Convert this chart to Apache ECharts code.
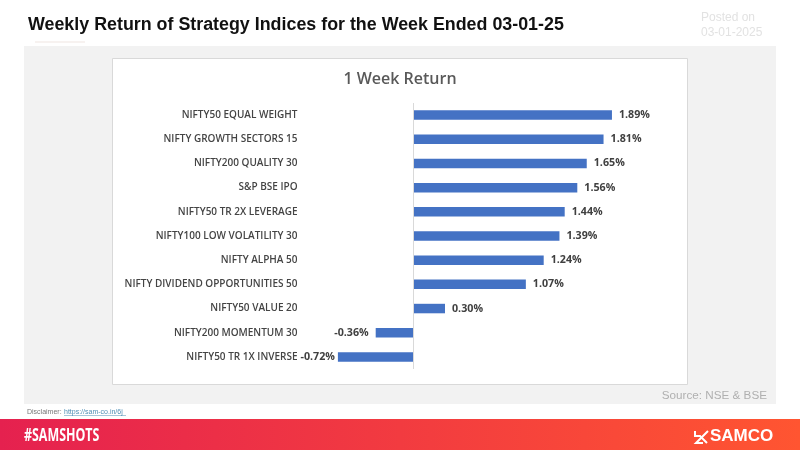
<!DOCTYPE html>
<html><head><meta charset="utf-8">
<style>html,body{margin:0;padding:0;background:#fff}#c{width:800px;height:450px}</style>
<script src="https://cdn.jsdelivr.net/npm/echarts@6/dist/echarts.min.js"></script>
</head><body><div id="c"></div>
<script>
const categories = ["NIFTY50 EQUAL WEIGHT","NIFTY GROWTH SECTORS 15","NIFTY200 QUALITY 30","S&P BSE IPO","NIFTY50 TR 2X LEVERAGE","NIFTY100 LOW VOLATILITY 30","NIFTY ALPHA 50","NIFTY DIVIDEND OPPORTUNITIES 50","NIFTY50 VALUE 20","NIFTY200 MOMENTUM 30","NIFTY50 TR 1X INVERSE"];
const values = [1.89,1.81,1.65,1.56,1.44,1.39,1.24,1.07,0.30,-0.36,-0.72];
const pageTitle = "Weekly Return of Strategy Indices for the Week Ended 03-01-25";
const chartTitle = "1 Week Return";
const chart = echarts.init(document.getElementById('c'), null, {renderer:'canvas'});
const t = (x,y,text,font,fill,extra={}) => Object.assign({type:'text',x,y,z:5,style:{text,font,fill,textVerticalAlign:'middle'}},extra);
chart.setOption({
  animation:false,
  backgroundColor:'#ffffff',
  grid:{left:308.5,width:315,top:103,height:266,containLabel:false},
  xAxis:{type:'value',min:-1,max:2,interval:1,show:false,splitLine:{show:false}},
  yAxis:{type:'category',inverse:true,data:categories,
    axisLine:{show:false,onZero:false},axisTick:{show:false},
    axisLabel:{margin:11,fontFamily:'Open Sans',fontWeight:600,fontSize:10,color:'#444444'}},
  series:[{type:'bar',barWidth:9.5,z:3,
    data:values.map((v,i)=> i===values.length-1 ? {value:v,label:{distance:3}} : v),
    itemStyle:{color:'#4472c4'},
    label:{show:true,position:'outside',distance:7,fontFamily:'Open Sans',fontWeight:700,fontSize:10.7,color:'#404040',
      formatter:p=>p.value.toFixed(2)+'%'},
    markLine:{silent:true,symbol:'none',label:{show:false},animation:false,
      lineStyle:{color:'#d9d9d9',width:1,type:'solid'},data:[{xAxis:0}]}}],
  graphic:[
    {type:'rect',z:-10,shape:{x:24,y:46,width:752,height:358},style:{fill:'#f2f2f2'}},
    {type:'rect',z:-9,shape:{x:112.5,y:58.5,width:575,height:326},style:{fill:'#ffffff',stroke:'#d9d9d9',lineWidth:1}},
    {type:'rect',z:-9,shape:{x:35,y:41.5,width:50,height:1},style:{fill:'#f0e6e2'}},
    {type:'rect',z:-9,shape:{x:0,y:419,width:800,height:31},style:{fill:new echarts.graphic.LinearGradient(0,0,1,0,[{offset:0,color:'#e5214f'},{offset:1,color:'#ff5531'}])}},
    t(28,25,pageTitle,'bold 17.85px "Liberation Sans"','#111111'),
    t(701,18,'Posted on','12px "Liberation Sans"','#e2e2e2'),
    t(701,33,'03-01-2025','12px "Liberation Sans"','#e2e2e2'),
    {type:'text',x:400,y:79,z:5,style:{text:chartTitle,font:'600 16px "Open Sans"',fill:'#595959',textAlign:'center',textVerticalAlign:'middle'}},
    {type:'text',x:767,y:396,z:5,style:{text:'Source: NSE & BSE',font:'11.7px "Liberation Sans"',fill:'#b0b0b0',textAlign:'right',textVerticalAlign:'middle'}},
    t(27,412,'Disclaimer:','7px "Liberation Sans"','#777777'),
    t(64,412,'https://sam-co.in/6j','7px "Liberation Sans"','#4f8fb5'),
    {type:'rect',z:5,shape:{x:64,y:415.5,width:62,height:0.6},style:{fill:'#4f8fb5'}},
    t(24,436,'#SAMSHOTS','bold 18px "Open Sans"','#ffffff',{scaleX:0.69}),
    {type:'polyline',z:6,shape:{points:[[695,431],[695,436],[700,436],[707,443]]},style:{stroke:'#fff',lineWidth:2,fill:'none'}},
    {type:'polyline',z:6,shape:{points:[[708,431],[701,438],[696,443],[703,443]]},style:{stroke:'#fff',lineWidth:2,fill:'none'}},
    t(710,436,'SAMCO','900 17px "Liberation Sans"','#ffffff')
  ]
});
</script></body></html>
